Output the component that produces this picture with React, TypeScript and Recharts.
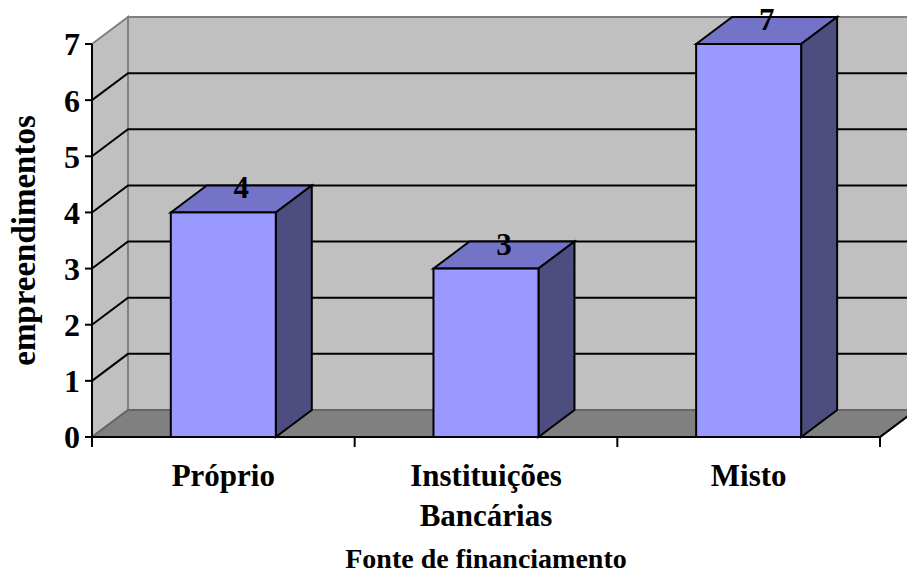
import { Bar, BarChart, LabelList, ReferenceArea, XAxis, YAxis } from 'recharts'

const categories = ['Próprio', 'Instituições Bancárias', 'Misto']
const tickLines = [['Próprio'], ['Instituições', 'Bancárias'], ['Misto']]
const counts = [4, 3, 7]
const yTicks = [0, 1, 2, 3, 4, 5, 6, 7]

const data = categories.map((name, i) => ({ name, value: counts[i], lines: tickLines[i] }))

// 3D depth offset of the walls and boxes
const DX = 36
const DY = 27
const FONT = '"Liberation Serif", "Times New Roman", serif'

function Backdrop(props: any) {
  const { x, y, width, height } = props
  const bottom = y + height
  const right = x + width
  const max = yTicks[yTicks.length - 1]
  const yOf = (v: number) => bottom - (v / max) * height
  return (
    <g>
      {/* side wall */}
      <polygon
        points={`${x},${y} ${x + DX},${y - DY} ${x + DX},${bottom - DY} ${x},${bottom}`}
        fill="#c0c0c0"
        stroke="#808080"
        strokeWidth={2}
      />
      {/* back wall */}
      <rect x={x + DX} y={y - DY} width={width + 10} height={height} fill="#c0c0c0" stroke="#808080" strokeWidth={2} />
      {/* floor */}
      <polygon
        points={`${x},${bottom} ${x + DX},${bottom - DY} ${right + DX},${bottom - DY} ${right},${bottom}`}
        fill="#808080"
        stroke="#666666"
        strokeWidth={2}
      />
      <line x1={right} y1={bottom} x2={right + DX} y2={bottom - DY} stroke="#000" strokeWidth={2} />
      {yTicks
        .filter((v) => v > 0 && v < max)
        .map((v) => (
          <polyline
            key={v}
            points={`${x},${yOf(v)} ${x + DX},${yOf(v) - DY} ${right + DX + 10},${yOf(v) - DY}`}
            fill="none"
            stroke="#000"
            strokeWidth={2}
          />
        ))}
    </g>
  )
}

function Box3D(props: any) {
  const { x, y, width: w, height: h } = props
  return (
    <g stroke="#000" strokeWidth={2} strokeLinejoin="miter">
      <polygon points={`${x},${y} ${x + DX},${y - DY} ${x + w + DX},${y - DY} ${x + w},${y}`} fill="#7373c8" />
      <polygon points={`${x + w},${y} ${x + w + DX},${y - DY} ${x + w + DX},${y + h - DY} ${x + w},${y + h}`} fill="#4d4d80" />
      <rect x={x} y={y} width={w} height={h} fill="#9999ff" />
    </g>
  )
}

function ValueLabel(props: any) {
  const { x, y, width, value } = props
  return (
    <text x={x + width / 2 + DX / 2} y={y - 14} textAnchor="middle" fontFamily={FONT} fontWeight="bold" fontSize={31} fill="#000">
      {value}
    </text>
  )
}

function XTick(props: any) {
  const { x, y, payload, index, width } = props
  const half = payload.offset > 0 ? payload.offset : width / data.length / 2
  const lines: string[] = data[index]?.lines ?? [payload.value]
  return (
    <g>
      <line x1={x + half} y1={y} x2={x + half} y2={y + 10} stroke="#000" strokeWidth={2} />
      {index === 0 && <line x1={x - half} y1={y} x2={x - half} y2={y + 10} stroke="#000" strokeWidth={2} />}
      {lines.map((t, i) => (
        <text key={i} x={x} y={y + 49 + i * 40} textAnchor="middle" fontFamily={FONT} fontWeight="bold" fontSize={31} fill="#000">
          {t}
        </text>
      ))}
    </g>
  )
}

export default function App() {
  return (
    <div style={{ position: 'absolute', left: 0, top: 0 }}>
      <BarChart width={907} height={577} data={data} margin={{ top: 44, right: 27, bottom: 0, left: 0 }} barCategoryGap="30%">
        <ReferenceArea y1={0} y2={7} shape={<Backdrop />} />
        <XAxis
          dataKey="name"
          height={140}
          axisLine={{ stroke: '#000', strokeWidth: 2 }}
          tickLine={false}
          tickSize={0}
          tickMargin={0}
          tick={<XTick />}
          interval={0}
          label={(p: any) => (
            <text
              x={p.viewBox.x + p.viewBox.width / 2}
              y={568}
              textAnchor="middle"
              fontFamily={FONT}
              fontWeight="bold"
              fontSize={28}
              fill="#000"
            >
              Fonte de financiamento
            </text>
          )}
        />
        <YAxis
          width={92}
          domain={[0, 7]}
          ticks={yTicks}
          interval={0}
          axisLine={{ stroke: '#000', strokeWidth: 2 }}
          tickLine={{ stroke: '#000', strokeWidth: 2 }}
          tickSize={7}
          tickMargin={5}
          tick={{ fontFamily: FONT, fontWeight: 'bold', fontSize: 32, fill: '#000' }}
          label={(p: any) => {
            const cx = 24
            const cy = p.viewBox.y + p.viewBox.height / 2
            return (
              <text
                x={cx}
                y={cy}
                dy={11}
                transform={`rotate(-90 ${cx} ${cy})`}
                textAnchor="middle"
                fontFamily={FONT}
                fontWeight="bold"
                fontSize={33}
                fill="#000"
              >
                empreendimentos
              </text>
            )
          }}
        />
        <Bar dataKey="value" shape={<Box3D />} isAnimationActive={false}>
          <LabelList dataKey="value" content={<ValueLabel />} />
        </Bar>
      </BarChart>
    </div>
  )
}
